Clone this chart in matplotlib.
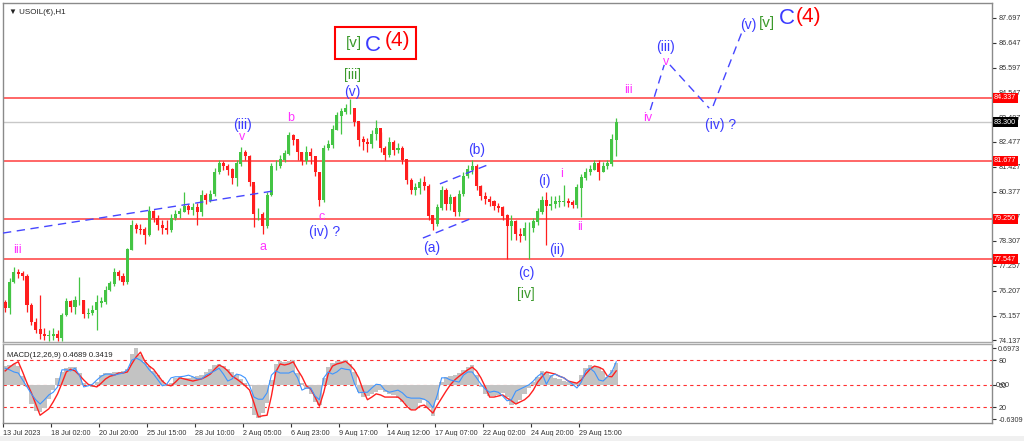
import matplotlib
matplotlib.use("Agg")
import matplotlib.pyplot as plt
from matplotlib.patches import Rectangle

# 6-hour bars (prices)
first_open = 75.70
close = [75.48, 76.58, 77.00, 76.92, 76.83, 75.61, 74.89, 74.56, 74.39, 74.31,
         74.31, 74.39, 74.22, 75.19, 75.74, 75.53, 75.82, 75.82, 75.23, 75.27,
         75.40, 75.70, 75.74, 76.24, 76.50, 77.00, 76.83, 76.58, 77.93, 78.94,
         78.81, 78.77, 78.56, 79.53, 79.27, 78.98, 78.85, 78.77, 79.27, 79.44,
         79.53, 79.78, 79.61, 79.70, 79.53, 80.24, 80.03, 80.28, 81.21, 81.55,
         81.46, 81.30, 80.96, 81.55, 82.05, 81.88, 80.79, 79.44, 79.44, 78.94,
         80.24, 81.46, 81.46, 81.72, 81.97, 82.73, 82.56, 82.05, 81.67, 82.05,
         81.88, 81.21, 80.03, 82.22, 82.35, 82.98, 83.57, 83.74, 83.90, 83.90,
         83.32, 82.56, 82.47, 82.39, 82.81, 83.06, 82.22, 81.93, 82.47, 82.14,
         82.22, 81.72, 80.87, 80.45, 80.54, 80.79, 80.62, 79.36, 79.02, 79.70,
         80.45, 79.86, 80.12, 79.53, 80.28, 81.04, 81.30, 81.46, 80.62, 80.20,
         80.07, 79.95, 79.78, 79.70, 79.36, 78.94, 79.11, 78.60, 78.52, 78.85,
         78.85, 79.11, 79.53, 80.03, 79.78, 79.86, 79.95, 79.95, 79.95, 79.91,
         79.82, 80.54, 80.96, 81.21, 81.30, 81.55, 81.21, 81.46, 81.55, 82.56,
         83.30]
high = [75.82, 76.75, 77.21, 77.13, 77.04, 76.92, 75.70, 75.06, 76.03, 74.64,
        74.56, 74.64, 74.56, 75.27, 75.91, 75.82, 75.99, 76.79, 75.82, 75.48,
        75.61, 76.03, 75.95, 76.41, 76.62, 77.17, 77.08, 76.96, 78.01, 79.19,
        79.06, 79.02, 78.90, 79.78, 79.61, 79.40, 79.19, 79.19, 79.44, 79.61,
        79.70, 80.37, 79.86, 79.91, 79.91, 80.45, 80.33, 80.45, 81.38, 81.72,
        81.67, 81.55, 81.38, 81.72, 82.26, 82.14, 81.93, 80.66, 79.70, 79.53,
        80.37, 81.59, 81.72, 81.93, 82.14, 82.89, 82.81, 82.56, 82.05, 82.31,
        82.22, 81.88, 81.21, 82.35, 82.56, 83.19, 83.74, 83.90, 84.07, 84.28,
        83.90, 83.32, 82.73, 82.64, 82.98, 83.40, 82.89, 82.31, 82.68, 82.56,
        82.43, 82.31, 81.72, 80.96, 80.75, 80.96, 81.04, 80.71, 79.40, 79.86,
        80.62, 80.54, 80.28, 80.20, 80.45, 81.21, 81.51, 81.72, 81.55, 80.66,
        80.37, 80.20, 80.03, 79.91, 79.78, 79.44, 79.40, 79.19, 78.85, 79.11,
        79.11, 79.27, 79.70, 80.20, 80.37, 80.20, 80.20, 80.24, 80.66, 80.12,
        80.03, 80.71, 81.13, 81.38, 81.51, 81.72, 81.72, 81.63, 81.72, 82.81,
        83.48]
low = [75.32, 75.23, 76.54, 76.75, 76.66, 75.32, 74.77, 74.43, 74.18, 74.14,
       74.09, 74.14, 74.09, 74.09, 75.15, 75.32, 75.23, 75.61, 75.06, 75.06,
       75.19, 74.56, 75.53, 75.65, 76.20, 76.41, 76.66, 76.45, 76.50, 77.93,
       78.64, 78.60, 78.18, 78.52, 79.11, 78.77, 78.60, 78.60, 78.68, 79.19,
       79.27, 79.53, 79.44, 79.40, 78.98, 79.36, 79.86, 79.95, 80.20, 81.13,
       81.30, 81.08, 80.71, 80.62, 81.46, 81.72, 80.62, 78.90, 79.19, 78.60,
       78.85, 80.20, 81.30, 81.38, 81.63, 81.93, 82.35, 81.72, 81.51, 81.55,
       81.55, 81.04, 79.78, 79.95, 82.14, 82.22, 82.98, 82.81, 83.65, 83.65,
       83.15, 82.31, 82.14, 82.05, 82.22, 82.56, 82.05, 81.72, 81.84, 81.93,
       82.01, 81.55, 80.71, 80.28, 80.24, 80.28, 80.45, 79.19, 78.77, 78.94,
       79.61, 79.61, 79.61, 79.36, 79.36, 80.20, 80.96, 81.13, 80.45, 80.03,
       79.86, 79.78, 79.61, 79.53, 79.19, 77.55, 78.35, 78.35, 78.26, 78.35,
       77.55, 78.68, 78.98, 79.44, 78.14, 79.61, 79.70, 79.74, 79.78, 79.74,
       79.70, 79.70, 79.32, 80.87, 81.08, 81.30, 80.87, 81.21, 81.34, 81.46,
       81.88]

macd_hist = [0.36, 0.38, 0.40, 0.36, 0.17, -0.03, -0.35, -0.48, -0.50, -0.42,
             -0.26, -0.09, 0.14, 0.25, 0.32, 0.34, 0.34, 0.23, 0.04, 0.01,
             -0.03, 0.06, 0.19, 0.23, 0.23, 0.25, 0.25, 0.27, 0.30, 0.59,
             0.70, 0.57, 0.44, 0.36, 0.27, 0.19, 0.10, -0.01, 0.04, 0.14,
             0.16, 0.14, 0.14, 0.16, 0.17, 0.19, 0.25, 0.30, 0.38, 0.40,
             0.36, 0.30, 0.25, 0.19, 0.12, 0.04, -0.01, -0.56, -0.61, -0.52,
             -0.33, 0.10, 0.40, 0.45, 0.44, 0.45, 0.47, 0.23, 0.04, -0.07,
             -0.16, -0.31, -0.37, 0.14, 0.34, 0.42, 0.45, 0.45, 0.47, 0.40,
             0.25, -0.13, -0.22, -0.20, -0.16, -0.13, -0.09, -0.13, -0.16, -0.18,
             -0.24, -0.31, -0.39, -0.46, -0.44, -0.33, -0.27, -0.42, -0.57, -0.27,
             0.06, 0.16, 0.17, 0.19, 0.23, 0.29, 0.34, 0.38, 0.19, -0.03,
             -0.16, -0.20, -0.20, -0.18, -0.14, -0.22, -0.37, -0.35, -0.27, -0.16,
             -0.05, 0.06, 0.16, 0.27, 0.25, 0.19, 0.14, 0.12, 0.08, 0.06,
             0.06, 0.04, 0.19, 0.32, 0.38, 0.36, 0.34, 0.27, 0.16, 0.29,
             0.42]
macd_signal = [0.27, 0.34, 0.40, 0.44, 0.25, 0.04, -0.14, -0.35, -0.56, -0.50,
               -0.44, -0.31, -0.16, 0.04, 0.25, 0.30, 0.27, 0.19, 0.10, 0.02,
               -0.01, -0.03, 0.04, 0.12, 0.17, 0.19, 0.23, 0.23, 0.25, 0.40,
               0.53, 0.62, 0.45, 0.36, 0.30, 0.19, 0.08, 0.01, -0.01, 0.06,
               0.14, 0.12, 0.10, 0.08, 0.10, 0.12, 0.16, 0.21, 0.30, 0.38,
               0.34, 0.27, 0.17, 0.12, 0.06, -0.01, -0.09, -0.33, -0.59, -0.57,
               -0.56, -0.20, 0.25, 0.40, 0.38, 0.40, 0.44, 0.29, 0.16, -0.01,
               -0.07, -0.22, -0.39, -0.13, 0.21, 0.36, 0.40, 0.42, 0.45, 0.38,
               0.29, 0.14, -0.09, -0.27, -0.22, -0.16, -0.18, -0.22, -0.22, -0.22,
               -0.22, -0.29, -0.39, -0.46, -0.46, -0.39, -0.37, -0.44, -0.52, -0.37,
               -0.24, -0.11, 0.01, 0.10, 0.17, 0.23, 0.29, 0.34, 0.27, 0.14,
               -0.03, -0.22, -0.22, -0.20, -0.18, -0.24, -0.29, -0.35, -0.31, -0.27,
               -0.20, -0.09, 0.06, 0.16, 0.25, 0.23, 0.21, 0.17, 0.14, 0.08,
               0.06, 0.04, 0.10, 0.21, 0.30, 0.36, 0.34, 0.30, 0.17, 0.16,
               0.27]
macd_blue = [0.32, 0.29, 0.25, 0.23, 0.10, -0.03, -0.16, -0.27, -0.35, -0.27,
             -0.18, -0.13, -0.03, 0.29, 0.29, 0.27, 0.32, 0.19, -0.03, -0.01,
             0.02, 0.10, 0.17, 0.21, 0.21, 0.19, 0.21, 0.23, 0.29, 0.47,
             0.51, 0.47, 0.40, 0.29, 0.21, 0.10, -0.01, 0.02, 0.14, 0.16,
             0.16, 0.17, 0.19, 0.16, 0.12, 0.12, 0.19, 0.23, 0.27, 0.32,
             0.21, 0.08, 0.12, 0.21, 0.19, 0.14, -0.01, -0.22, -0.26, -0.26,
             -0.14, 0.19, 0.27, 0.23, 0.23, 0.23, 0.27, 0.14, -0.09, -0.05,
             -0.05, -0.20, -0.27, 0.14, 0.25, 0.21, 0.25, 0.32, 0.30, 0.29,
             0.04, -0.14, -0.13, -0.13, -0.05, 0.02, 0.01, -0.09, -0.13, -0.11,
             -0.09, -0.14, -0.22, -0.24, -0.24, -0.24, -0.26, -0.31, -0.42, -0.18,
             0.14, 0.14, 0.10, 0.08, 0.06, 0.19, 0.25, 0.25, 0.14, 0.02,
             -0.07, -0.13, -0.11, -0.13, -0.20, -0.29, -0.27, -0.11, -0.07, -0.03,
             0.01, 0.08, 0.17, 0.23, 0.02, 0.17, 0.21, 0.17, 0.14, 0.08,
             0.02, -0.05, 0.06, 0.27, 0.32, 0.25, 0.10, 0.08, 0.16, 0.25,
             0.44]

levels = [84.337, 81.677, 79.250, 77.547]
last_price = 83.300
price_ticks = [87.697, 86.647, 85.597, 84.547, 83.497, 82.477, 81.427,
               80.377, 79.327, 78.307, 77.257, 76.207, 75.157, 74.137]
date_labels = ["13 Jul 2023", "18 Jul 02:00", "20 Jul 20:00", "25 Jul 15:00",
               "28 Jul 10:00", "2 Aug 05:00", "6 Aug 23:00", "9 Aug 17:00",
               "14 Aug 12:00", "17 Aug 07:00", "22 Aug 02:00", "24 Aug 20:00",
               "29 Aug 15:00"]

BLUE = "#3b3bff"
MAG = "#ff33ff"
GRN = "#3c9a2c"
RED = "#ff0000"
AXFS = 5.2
plt.rcParams["font.family"] = ["Liberation Sans", "DejaVu Sans"]

n = len(close)
xs = [i + 0.5 for i in range(n)]
opens = [first_open] + close[:-1]

fig = plt.figure(figsize=(10.24, 4.41), dpi=100)
fig.patch.set_facecolor("white")
fig.patches.append(Rectangle((0, 0), 1, 5 / 441, transform=fig.transFigure,
                             fc="#f0f0f0", ec="none"))
ax = fig.add_axes([3 / 1024, 1 - 342 / 441, 989 / 1024, 339 / 441])
ax2 = fig.add_axes([3 / 1024, 1 - 423 / 441, 989 / 1024, 79 / 441])

# candles
cols = ["#44c444" if c >= o else "#ff1e1e" for o, c in zip(opens, close)]
ax.vlines(xs, low, high, colors=cols, lw=0.9, zorder=3)
ax.bar(xs, [abs(c - o) + 0.02 for o, c in zip(opens, close)],
       bottom=[min(o, c) for o, c in zip(opens, close)], width=0.7,
       color=cols, zorder=3)

for lv in levels:
    ax.axhline(lv, color="#ff5a5a", lw=1.3, zorder=2)
ax.axhline(last_price, color="#c8c8c8", lw=1.0, zorder=1)

ax.set_xlim(0, 226.6)
ax.set_ylim(74.053, 88.326)
ax.yaxis.tick_right()
ax.set_yticks(price_ticks)
ax.set_yticklabels([f"{t:.3f}" for t in price_ticks])
ax.tick_params(axis="y", labelsize=AXFS, length=3, pad=1.5, colors="#333333")
ax.tick_params(axis="x", bottom=False, labelbottom=False)

ytr = ax.get_yaxis_transform()
for lv in levels:
    ax.text(1.002, lv, f"{lv:.3f}", transform=ytr, fontsize=AXFS, color="white",
            va="center", ha="left",
            bbox=dict(boxstyle="square,pad=0.2", fc=RED, ec="none"))
ax.text(1.002, last_price, f"{last_price:.3f}", transform=ytr, fontsize=AXFS,
        color="white", va="center", ha="left",
        bbox=dict(boxstyle="square,pad=0.2", fc="black", ec="none"))

# trend lines
dash = dict(color="#4646ff", lw=1.0, dashes=(6, 4), zorder=4)
ax.plot([0, 61.9], [78.64, 80.41], **dash)
ax.plot([96.2, 107.5], [78.43, 79.27], **dash)
ax.plot([100.1, 111.6], [80.71, 81.55], **dash)
ax.plot([148.3, 151.5], [83.82, 85.72], **dash)
ax.plot([152.8, 161.8], [85.72, 83.90], **dash)
ax.plot([162.7, 169.3], [83.99, 87.10], **dash)

labels = [
    ("iii", 3.4, 77.93, MAG, 9), ("(iii)", 54.8, 83.19, BLUE, 10),
    ("v", 54.8, 82.68, MAG, 9), ("b", 65.8, 83.48, MAG, 9),
    ("a", 59.6, 78.05, MAG, 9), ("c", 73.1, 79.32, MAG, 9),
    ("(iv) ?", 73.6, 78.68, BLUE, 10), ("(v)", 80.0, 84.58, BLUE, 10),
    ("[iii]", 80.0, 85.29, GRN, 10), ("(a)", 98.3, 78.01, BLUE, 10),
    ("(b)", 108.6, 82.14, BLUE, 10), ("(c)", 119.8, 76.96, BLUE, 10),
    ("[iv]", 119.8, 76.07, GRN, 10), ("(i)", 124.0, 80.83, BLUE, 10),
    ("i", 127.9, 81.13, MAG, 9), ("(ii)", 127.0, 77.93, BLUE, 10),
    ("ii", 132.2, 78.90, MAG, 9), ("iii", 143.4, 84.66, MAG, 9),
    ("iv", 147.8, 83.48, MAG, 9), ("(iii)", 151.9, 86.47, BLUE, 10),
    ("v", 152.0, 85.84, MAG, 9), ("(iv) ?", 164.3, 83.19, BLUE, 10),
    ("(v)", 170.7, 87.40, BLUE, 10), ("[v]", 175.1, 87.48, GRN, 11),
    ("C", 179.6, 87.66, BLUE, 16), ("(4)", 184.5, 87.74, RED, 15),
    ("[v]", 80.4, 86.64, GRN, 11), ("C", 84.8, 86.52, BLUE, 16),
    ("(4)", 90.3, 86.74, RED, 15),
]
for txt, xb, yp, c, fs in labels:
    ax.text(xb, yp, txt, color=c, fontsize=fs, ha="center", va="center", zorder=5)
ax.add_patch(Rectangle((76.1, 85.97), 18.5, 1.35, fill=False, ec=RED, lw=1.5, zorder=5))

ax.text(0.006, 0.972, "\u25bc USOIL(\u20ac),H1", transform=ax.transAxes,
        fontsize=AXFS + 0.6, color="#222222", va="center", ha="left")

# MACD panel
ax2.bar(xs, macd_hist, width=1.0, color="#c3c3c3", zorder=2)
ax2.plot(xs, macd_signal, color="#ff2020", lw=1.0, zorder=3)
ax2.plot(xs, macd_blue, color="#3d94ff", lw=0.8, zorder=4)
for lv in [0.473, 0.0, -0.41]:
    ax2.axhline(lv, color="#ff3030", lw=0.8, dashes=(3, 3), zorder=1)
ax2.set_xlim(0, 226.6)
ax2.set_ylim(-0.705, 0.773)
ax2.yaxis.tick_right()
ax2.set_yticks([0.6973, 0.473, 0.0, -0.41, -0.6309])
ax2.set_yticklabels(["0.6973", "80", "50", "20", "-0.6309"])
ax2.tick_params(axis="y", labelsize=AXFS, length=3, pad=1.5, colors="#333333")
ax2.text(1.004, 0.0, "0.00", transform=ax2.get_yaxis_transform(), fontsize=AXFS,
         color="#333333", va="center", ha="left")
ax2.set_xticks(list(range(0, 11 * len(date_labels), 11)))
ax2.set_xticklabels(date_labels, ha="left")
ax2.tick_params(axis="x", labelsize=AXFS, length=3, pad=2, colors="#333333")
ax2.text(0.004, 0.86, "MACD(12,26,9) 0.4689 0.3419", transform=ax2.transAxes,
         fontsize=AXFS + 0.4, color="#222222", va="center", ha="left")

for a in (ax, ax2):
    for s in a.spines.values():
        s.set_color("#8a8a8a")
        s.set_linewidth(1.0)
ax.spines["bottom"].set_color("#a8a8a8")
ax2.spines["top"].set_color("#a8a8a8")

fig.savefig("out.png", dpi=100)
